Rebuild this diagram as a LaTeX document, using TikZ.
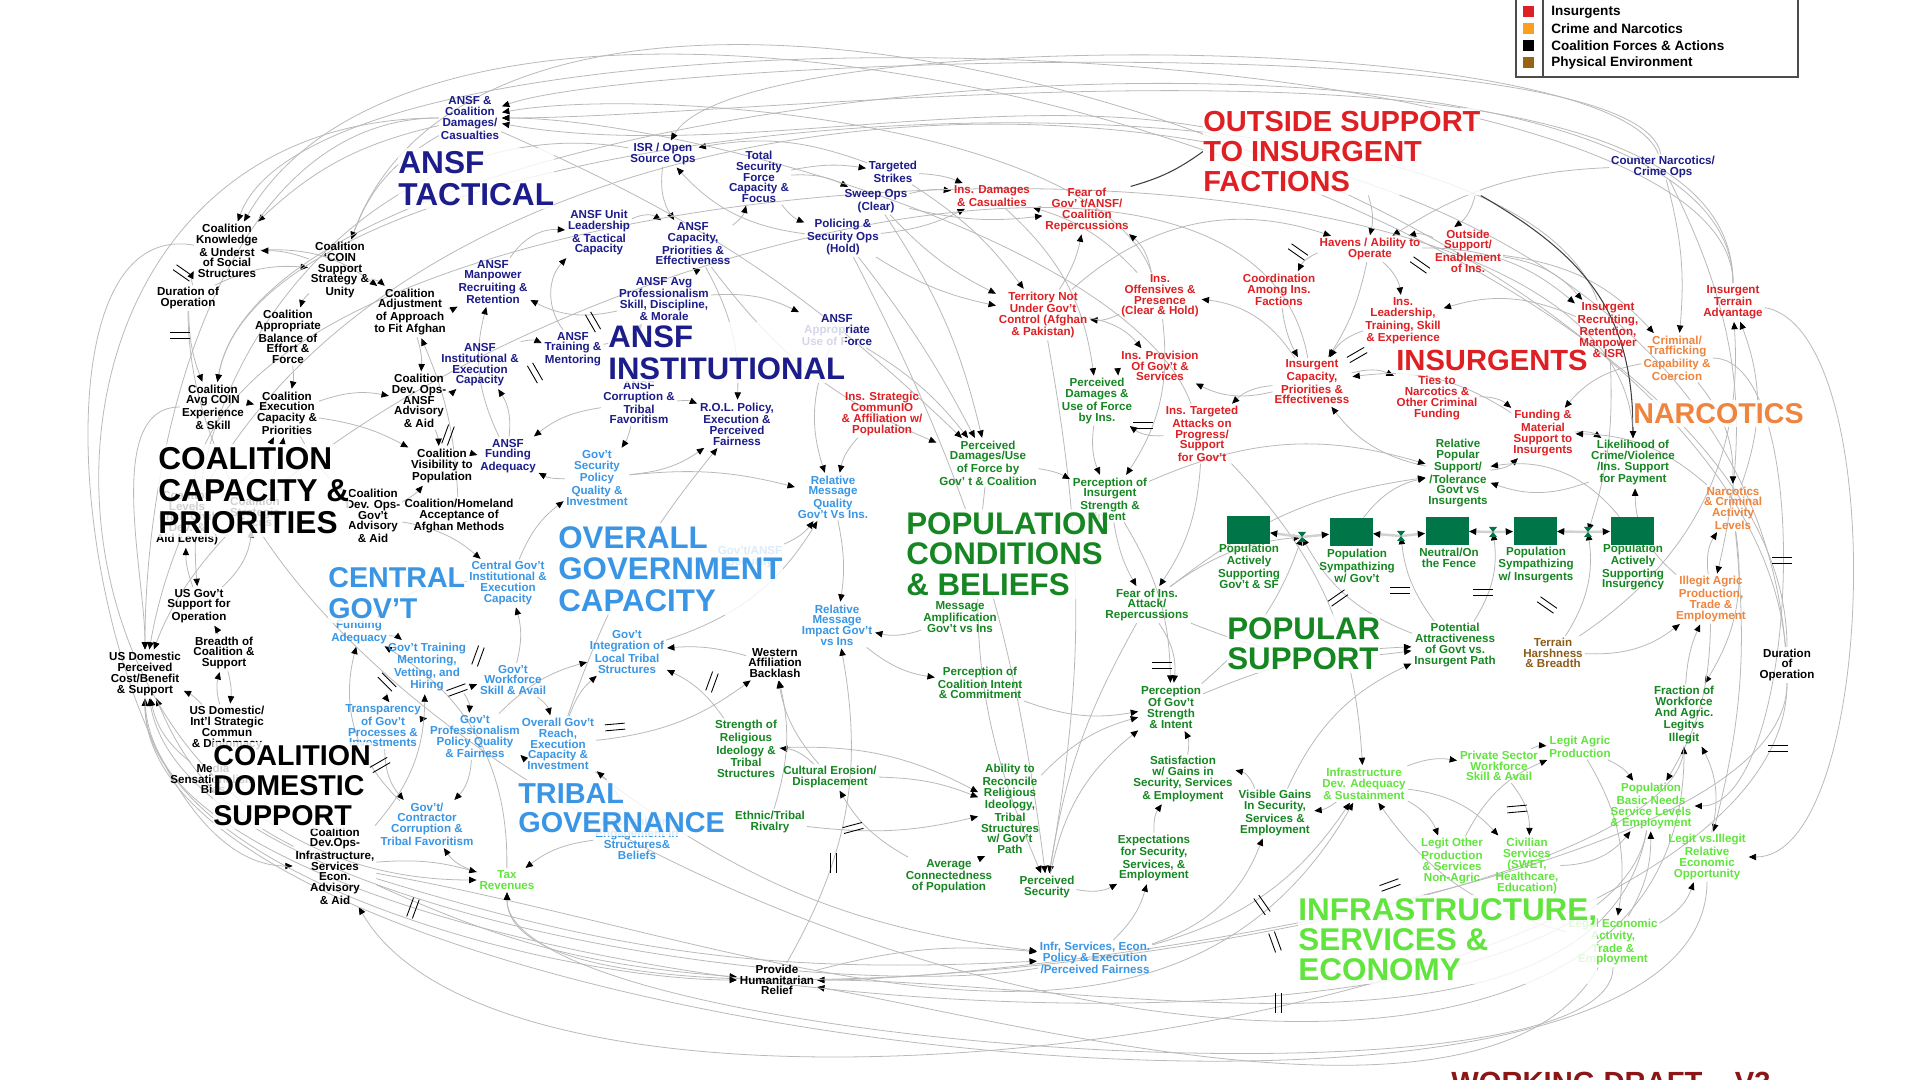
\documentclass[tikz,border=0pt]{standalone}
\usepackage{fontspec}
\setmainfont{Liberation Sans}
\usepackage{xcolor}
\usepackage{tikz}
\usetikzlibrary{arrows.meta, positioning, backgrounds}

\definecolor{ansfblue}{RGB}{28,28,138}
\definecolor{govblue}{RGB}{58,150,228}
\definecolor{insred}{RGB}{222,32,36}
\definecolor{narcorange}{RGB}{238,132,62}
\definecolor{popgreen}{RGB}{22,134,34}
\definecolor{infgreen}{RGB}{98,228,62}
\definecolor{envbrown}{RGB}{140,92,24}
\definecolor{stockgreen}{RGB}{0,118,72}
\definecolor{linkgray}{RGB}{185,185,185}
\definecolor{draftred}{RGB}{140,22,22}
\definecolor{keyorange}{RGB}{250,160,30}
\definecolor{keybrown}{RGB}{150,100,20}

\tikzset{
  var/.style={align=center, inner sep=1pt, font=\bfseries\fontsize{6.6}{6.1}\selectfont},
  ansf/.style={var, text=ansfblue},
  gov/.style={var, text=govblue},
  ins/.style={var, text=insred},
  narc/.style={var, text=narcorange},
  coal/.style={var, text=black},
  pop/.style={var, text=popgreen},
  infr/.style={var, text=infgreen},
  env/.style={var, text=envbrown},
  grp/.style 2 args={anchor=north west, align=left, inner xsep=0pt, inner ysep=2pt,
    fill=white, fill opacity=0.82, text opacity=1, font=\bfseries\fontsize{#1}{#2}\selectfont},
  link/.style={draw=linkgray, line width=0.45pt, -{Triangle[color=black, length=4.2pt, width=3.6pt]}, shorten >=0.5pt},
  dark/.style={draw=black!75, line width=0.6pt},
  pipe/.style={draw=black!18, line width=1.4pt, -{Triangle[color=black, length=4.2pt, width=3.6pt]}},
  stock/.style={fill=stockgreen, minimum width=8.6mm, minimum height=5.6mm, inner sep=0pt},
  keybox/.style={minimum size=2.2mm, inner sep=0pt},
  keytext/.style={anchor=west, inner sep=0pt, font=\bfseries\fontsize{7.7}{8}\selectfont},
  dmark/.pic={\draw[black, line width=0.5pt] (-10,-3) -- (10,-3) (-10,3) -- (10,3);},
  valve/.pic={\fill[stockgreen] (-4,-5) -- (4,-5) -- (-4,5) -- (4,5) -- cycle;},
}

\begin{document}
\begin{tikzpicture}[>=Triangle, x=0.2mm, y=-0.2mm]
    \useasboundingbox (0,0) rectangle (1920,1080);

    % 1. ANSF
    \node[ansf] (ansfDam) at (470,118) {ANSF \&\\Coalition\\Damages/\\Casualties};
    \node[ansf] (isr) at (663,154) {ISR / Open\\Source Ops};
    \node[ansf] (tsfc) at (759,177) {Total\\Security\\Force\\Capacity \&\\Focus};
    \node[ansf] (strike) at (893,172) {Targeted\\Strikes};
    \node[ansf] (sweep) at (876,201) {Sweep Ops\\(Clear)};
    \node[ansf] (police) at (843,237) {Policing \&\\Security Ops\\(Hold)};
    \node[ansf] (ansfLead) at (599,233) {ANSF Unit\\Leadership\\\& Tactical\\Capacity};
    \node[ansf] (ansfCap) at (693,244) {ANSF\\Capacity,\\Priorities \&\\Effectiveness};
    \node[ansf] (ansfMan) at (493,282) {ANSF\\Manpower\\Recruiting \&\\Retention};
    \node[ansf] (ansfProf) at (664,299) {ANSF Avg\\Professionalism\\Skill, Discipline,\\\& Morale};
    \node[ansf] (ansfTrain) at (573,349) {ANSF\\Training \&\\Mentoring};
    \node[ansf] (ansfInst) at (480,365) {ANSF\\Institutional \&\\Execution\\Capacity};
    \node[ansf] (ansfUse) at (837,330) {ANSF\\Appropriate\\Use of Force};
    \node[ansf] (ansfFund) at (508,456) {ANSF\\Funding\\Adequacy};
    \node[ansf] (ansfCorr) at (639,403) {ANSF\\Corruption \&\\Tribal\\Favoritism};
    \node[ansf] (rol) at (737,424) {R.O.L. Policy,\\Execution \&\\Perceived\\Fairness};
    \node[ansf] (cnOps) at (1663,167) {Counter Narcotics/\\Crime Ops};

    % 2. Coalition
    \node[coal] (coalKnow) at (227,251) {Coalition\\Knowledge\\\& Underst\\of Social\\Structures};
    \node[coal] (coalCoin) at (340,270) {Coalition\\‘COIN\\Support\\Strategy \&\\Unity};
    \node[coal] (durL) at (188,298) {Duration of\\Operation};
    \node[coal] (coalBal) at (288,337) {Coalition\\Appropriate\\Balance of\\Effort \&\\Force};
    \node[coal] (coalAdj) at (410,312) {Coalition\\Adjustment\\of Approach\\to Fit Afghan};
    \node[coal] (coalAvg) at (213,407) {Coalition\\Avg COIN\\Experience\\\& Skill};
    \node[coal] (coalExec) at (287,413) {Coalition\\Execution\\Capacity \&\\Priorities};
    \node[coal] (coalDevA) at (419,401) {Coalition\\Dev. Ops-\\ANSF\\Advisory\\\& Aid};
    \node[coal] (coalVis) at (442,466) {Coalition\\Visibility to\\Population};
    \node[coal] (coalDevG) at (373,516) {Coalition\\Dev. Ops-\\Gov't\\Advisory\\\& Aid};
    \node[coal] (coalHome) at (459,516) {Coalition/Homeland\\Acceptance of\\Afghan Methods};
    \node[coal] (coalTroop) at (187,518) {Coalition\\Levels\\(Incl. Civil\\Dev. \&\\Aid Levels)};
    \node[coal] (coalStrat) at (255,512) {Coalition\\Strategic\\Focus};
    \node[coal] (usSupp) at (199,606) {US Gov't\\Support for\\Operation};
    \node[coal] (breadth) at (224,653) {Breadth of\\Coalition \&\\Support};
    \node[coal] (usDom) at (145,674) {US Domestic\\Perceived\\Cost/Benefit\\\& Support};
    \node[coal] (usComm) at (227,728) {US Domestic/\\Int'l Strategic\\Commun\\\& Diplomacy};
    \node[coal] (media) at (213,779) {Media\\Sensationalism\\Bias};
    \node[coal] (coalDevI) at (335,866) {Coalition\\Dev.Ops-\\Infrastructure,\\Services\\Econ.\\Advisory\\\& Aid};
    \node[coal] (western) at (775,663) {Western\\Affiliation\\Backlash};
    \node[coal] (relief) at (777,980) {Provide\\Humanitarian\\Relief};
    \node[coal] (durR) at (1787,665) {Duration\\of\\Operation};

    % 3. Government
    \node[gov] (cgFund) at (359,632) {Funding\\Adequacy};
    \node[gov] (cgInst) at (508,583) {Central Gov't\\Institutional \&\\Execution\\Capacity};
    \node[gov] (govTrain) at (427,667) {Gov't Training\\Mentoring,\\Vetting, and\\Hiring};
    \node[gov] (transp) at (383,726) {Transparency\\of Gov't\\Processes \&\\Investments};
    \node[gov] (govWork) at (513,680) {Gov't\\Workforce\\Skill \& Avail};
    \node[gov] (govProf) at (475,737) {Gov't\\Professionalism\\Policy Quality\\\& Fairness};
    \node[gov] (govReach) at (558,744) {Overall Gov't\\Reach,\\Execution\\Capacity \&\\Investment};
    \node[gov] (govCorr) at (427,824) {Gov't/\\Contractor\\Corruption \&\\Tribal Favoritism};
    \node[gov] (govSec) at (597,478) {Gov't\\Security\\Policy\\Quality \&\\Investment};
    \node[gov] (govInt) at (627,652) {Gov't\\Integration of\\Local Tribal\\Structures};
    \node[gov] (tribalSB) at (637,838) {Recognition/\\Engagement in\\Structures\&\\Beliefs};
    \node[gov] (relMsgQ) at (833,497) {Relative\\Message\\Quality\\Gov't Vs Ins.};
    \node[gov] (relMsgI) at (837,625) {Relative\\Message\\Impact Gov't\\vs Ins};
    \node[gov] (infrPol) at (1095,958) {Infr, Services, Econ.\\Policy \& Execution\\/Perceived Fairness};
    \node[gov] (ghost) at (750,557) {Gov't/ANSF\\Security};

    % 4. Insurgents, narcotics, environment
    \node[ins] (insDam) at (992,196) {Ins. Damages\\\& Casualties};
    \node[ins] (fear) at (1087,210) {Fear of\\Gov' t/ANSF/\\Coalition\\Repercussions};
    \node[ins] (territory) at (1043,315) {Territory Not\\Under Gov't\\Control (Afghan\\\& Pakistan)};
    \node[ins] (insOff) at (1160,296) {Ins.\\Offensives \&\\Presence\\(Clear \& Hold)};
    \node[ins] (insProv) at (1160,366) {Ins. Provision\\Of Gov't \&\\Services};
    \node[ins] (insComm) at (882,414) {Ins. Strategic\\CommunIO\\\& Affiliation w/\\Population};
    \node[ins] (insTarget) at (1202,434) {Ins. Targeted\\Attacks on\\Progress/\\Support\\for Gov't};
    \node[ins] (havens) at (1370,249) {Havens / Ability to\\Operate};
    \node[ins] (coord) at (1279,290) {Coordination\\Among Ins.\\Factions};
    \node[ins] (insLead) at (1403,321) {Ins.\\Leadership,\\Training, Skill\\\& Experience};
    \node[ins] (outsideS) at (1468,251) {Outside\\Support/\\Enablement\\of Ins.};
    \node[ins] (insRec) at (1608,330) {Insurgent\\Recruiting,\\Retention,\\Manpower\\\& ISR};
    \node[ins] (insTerr) at (1733,302) {Insurgent\\Terrain\\Advantage};
    \node[ins] (insCap) at (1312,382) {Insurgent\\Capacity,\\Priorities \&\\Effectiveness};
    \node[ins] (ties) at (1437,398) {Ties to\\Narcotics \&\\Other Criminal\\Funding};
    \node[ins] (fundMat) at (1543,433) {Funding \&\\Material\\Support to\\Insurgents};
    \node[narc] (criminal) at (1677,358) {Criminal/\\Trafficking\\Capability \&\\Coercion};
    \node[narc] (narcLev) at (1733,508) {Narcotics\\\& Criminal\\Activity\\Levels};
    \node[narc] (illegit) at (1711,599) {Illegit Agric\\Production,\\Trade \&\\Employment};
    \node[env] (terrain) at (1553,653) {Terrain\\Harshness\\\& Breadth};

    % 5. Population
    \node[pop] (likely) at (1633,463) {Likelihood of\\Crime/Violence\\/Ins. Support\\for Payment};
    \node[pop] (relPop) at (1458,473) {Relative\\Popular\\Support/\\/Tolerance\\Govt vs\\Insurgents};
    \node[pop] (percDamIns) at (1097,401) {Perceived\\Damages \&\\Use of Force\\by Ins.};
    \node[pop] (percDamGov) at (988,463) {Perceived\\Damages/Use\\of Force by\\Gov' t \& Coalition};
    \node[pop] (percIns) at (1110,499) {Perception of\\Insurgent\\Strength \&\\Intent};
    \node[pop] (fearIns) at (1147,605) {Fear of Ins.\\Attack/\\Repercussions};
    \node[pop] (percGov) at (1171,707) {Perception\\Of Gov't\\Strength\\\& Intent};
    \node[pop] (msgAmp) at (960,617) {Message\\Amplification\\Gov't vs Ins};
    \node[pop] (percCoal) at (980,683) {Perception of\\Coalition Intent\\\& Commitment};
    \node[pop] (potential) at (1455,645) {Potential\\Attractiveness\\of Govt vs.\\Insurgent Path};
    \node[pop] (strength) at (746,749) {Strength of\\Religious\\Ideology \&\\Tribal\\Structures};
    \node[pop] (cultural) at (830,777) {Cultural Erosion/\\Displacement};
    \node[pop] (ethnic) at (770,822) {Ethnic/Tribal\\Rivalry};
    \node[pop] (avgConn) at (949,876) {Average\\Connectedness\\of Population};
    \node[pop] (ability) at (1010,809) {Ability to\\Reconcile\\Religious\\Ideology,\\Tribal\\Structures\\w/ Gov't\\Path};
    \node[pop] (percSec) at (1047,887) {Perceived\\Security};
    \node[pop] (satisf) at (1183,779) {Satisfaction\\w/ Gains in\\Security, Services\\\& Employment};
    \node[pop] (expect) at (1154,858) {Expectations\\for Security,\\Services, \&\\Employment};
    \node[pop] (visible) at (1275,813) {Visible Gains\\In Security,\\Services \&\\Employment};
    \node[pop] (fraction) at (1684,715) {Fraction of\\Workforce\\And Agric.\\Legitvs\\Illegit};

    % stocks and valves
    \node[stock] (sGov) at (1248,530) {};
    \node[stock] (sSym) at (1351,532) {};
    \node[stock] (sNeu) at (1447,531) {};
    \node[stock] (sSymI) at (1535,531) {};
    \node[stock] (sIns) at (1632,531) {};
    \coordinate (v1) at (1302,537);
    \coordinate (v2) at (1401,536);
    \coordinate (v3) at (1493,532);
    \coordinate (v4) at (1588,532);
    \node[pop] (lGov) at (1249,566) {Population\\Actively\\Supporting\\Gov't \& SF};
    \node[pop] (lSym) at (1357,566) {Population\\Sympathizing\\w/ Gov't};
    \node[pop] (lNeu) at (1449,558) {Neutral/On\\the Fence};
    \node[pop] (lSymI) at (1536,565) {Population\\Sympathizing\\w/ Insurgents};
    \node[pop] (lIns) at (1633,567) {Population\\Actively\\Supporting\\Insurgency};

    % 6. Infrastructure
    \node[infr] (infra) at (1364,784) {Infrastructure\\Dev. Adequacy\\\& Sustainment};
    \node[infr] (legitOther) at (1452,861) {Legit Other\\Production\\\& Services\\Non-Agric};
    \node[infr] (civil) at (1527,866) {Civilian\\Services\\(SWET,\\Healthcare,\\Education)};
    \node[infr] (private) at (1499,766) {Private Sector\\Workforce\\Skill \& Avail};
    \node[infr] (legitAg) at (1580,747) {Legit Agric\\Production};
    \node[infr] (basic) at (1651,806) {Population\\Basic Needs\\Service Levels\\\& Employment};
    \node[infr] (legitVs) at (1707,857) {Legit vs.Illegit\\Relative\\Economic\\Opportunity};
    \node[infr] (legalEcon) at (1613,942) {Legal Economic\\Activity,\\Trade \&\\Employment};
    \node[infr] (taxRev) at (507,880) {Tax\\Revenues};

    % 7. Group titles
    \node[grp={18}{18.2}, text=ansfblue] (tAnsfTac) at (398,147.5) {ANSF\\TACTICAL};
    \node[grp={17.7}{18}, text=ansfblue] (tAnsfInst) at (608,322) {ANSF\\INSTITUTIONAL};
    \node[grp={16.5}{17}, text=insred] (tOutside) at (1203,107.5) {OUTSIDE SUPPORT\\TO INSURGENT\\FACTIONS};
    \node[grp={16.6}{17}, text=insred] (tIns) at (1396,346.5) {INSURGENTS};
    \node[grp={16.3}{17}, text=narcorange] (tNarc) at (1633,399.5) {NARCOTICS};
    \node[grp={18}{18.2}] (tCoalCap) at (158,443.5) {COALITION\\CAPACITY \&\\PRIORITIES};
    \node[grp={16.3}{18}, text=govblue] (tCentral) at (328,563.5) {CENTRAL\\GOV’T};
    \node[grp={17.8}{18}, text=govblue] (tOverall) at (558,522.5) {OVERALL\\GOVERNMENT\\CAPACITY};
    \node[grp={17.8}{17.4}, text=popgreen] (tPopCond) at (906,508.5) {POPULATION\\CONDITIONS\\\& BELIEFS};
    \node[grp={17.8}{17}, text=popgreen] (tPopSup) at (1227,613.5) {POPULAR\\SUPPORT};
    \node[grp={16.4}{16.7}, text=govblue] (tTribal) at (518,779.5) {TRIBAL\\GOVERNANCE};
    \node[grp={16.3}{17}] (tCoalDom) at (213,741.5) {COALITION\\DOMESTIC\\SUPPORT};
    \node[grp={17.9}{17}, text=infgreen] (tInfra) at (1298,894.5) {INFRASTRUCTURE,\\SERVICES \&\\ECONOMY};
    \node[anchor=base west, inner sep=0pt, font=\bfseries\fontsize{16.6}{17}\selectfont, text=draftred] (draft) at (1451,1092) {WORKING DRAFT – V3};

    % 8. Legend
    \draw[black!70, line width=0.7pt] (1516,-20) rectangle (1798,77);
    \draw[black!70, line width=0.7pt] (1543,-20) -- (1543,77);
    \node[keybox, fill=insred] (kIns) at (1528,12) {};
    \node[keybox, fill=keyorange] (kNarc) at (1528,29) {};
    \node[keybox, fill=black] (kCoal) at (1528,46) {};
    \node[keybox, fill=keybrown] (kEnv) at (1528,63) {};
    \node[keytext] (kInsT) at (1551,12) {Insurgents};
    \node[keytext] (kNarcT) at (1551,29) {Crime and Narcotics};
    \node[keytext] (kCoalT) at (1551,46) {Coalition Forces \& Actions};
    \node[keytext] (kEnvT) at (1551,63) {Physical Environment};

    % 9. Links
    \begin{pgfonlayer}{background}
    \fill[white] (0,0) rectangle (1920,1080);
    % ANSF links
    \path (tsfc) edge[link, bend left=10] (strike) edge[link, bend left=15] (sweep) edge[link, bend right=15] (police);
    \path (ansfCap) edge[link, bend right=20] (tsfc) edge[link, bend left=15] (rol) edge[link, bend right=15] (percDamGov);
    \path (ansfLead) edge[link, bend left=30] (ansfCap);
    \path (ansfProf) edge[link, bend right=25] (ansfCap) edge[link, bend left=20] (ansfMan) edge[link, bend left=15] (ansfUse);
    \path (ansfTrain) edge[link, bend left=40] (ansfLead) edge[link, bend right=20] (ansfProf);
    \path (ansfInst) edge[link, bend left=20] (ansfTrain);
    \path (ansfMan) edge[link, bend left=30] (ansfLead);
    \path (strike) edge[link, bend right=15] (isr) edge[link, bend left=10] (insDam) edge[link, bend left=10] (territory);
    \path (sweep) edge[link, bend left=10] (insDam) edge[link, bend right=10] (territory) edge[link, bend left=10] (percDamGov) edge[link, bend right=10] (fear);
    \path (police) edge[link, bend left=20] (isr) edge[link, bend right=10] (insDam) edge[link, bend left=10] (percSec) edge[link, bend right=10] (territory) edge[link, bend left=5] (percDamGov);
    \path (isr) edge[link, bend right=20] (ansfCap);
    \path (ansfDam) edge[link, bend right=20] (coalCoin) edge[link, bend right=15] (coalKnow) edge[link, bend left=10] (percDamGov);
    \path (ansfUse) edge[link, bend left=10] (percDamGov) edge[link, bend right=20] (relMsgQ);
    \path (ansfFund) edge[link, bend right=20] (ansfInst) edge[link, bend left=20] (ansfMan);
    \path (ansfCorr) edge[link, bend left=15] (rol) edge[link, bend right=15] (ansfFund) edge[link, bend left=10] (govSec);
    % insurgent links
    \path (insOff) edge[link, out=110, in=10, looseness=0.6] (ansfDam) edge[link, bend left=15] (territory) edge[link, bend right=20] (fear) edge[link, bend left=20] (percIns) edge[link, bend right=15] (insDam);
    \path (insTarget) edge[link, out=110, in=0, looseness=0.6] (ansfDam) edge[link, bend left=20] (percDamIns) edge[link, bend left=15] (fearIns) edge[link, bend left=20] (infra);
    \path (territory) edge[link, bend left=30] (havens) edge[link, bend left=20] (insProv) edge[link, bend right=10] (fear) edge[link, bend left=10] (percSec);
    \path (insCap) edge[link, bend right=20] (insTarget) edge[link, bend left=20] (insProv) edge[link, bend right=25] (insOff) edge[link, bend left=20] (ties);
    \path (coord) edge[link, bend right=10] (insCap);
    \path (havens) edge[link, bend right=20] (coord) edge[link, bend left=20] (insLead) edge[link, bend left=10] (insCap) edge[link, bend left=20] (insRec);
    \path (insLead) edge[link, bend right=20] (insCap);
    \path (insRec) edge[link, bend right=20] (insLead) edge[link, bend left=10] (v4);
    \path (outsideS) edge[link, bend right=20] (havens) edge[link, bend left=20] (insRec) edge[link, bend left=20] (criminal);
    \path (tOutside) edge[link, bend left=15] (havens) edge[link, bend left=20] (outsideS) edge[link, out=170, in=350, looseness=0.8] (ansfDam);
    \path (cnOps) edge[link, bend right=15] (havens) edge[link, bend left=10] (criminal) edge[link, bend left=20] (illegit) edge[link, out=110, in=60, looseness=0.35] (isr) edge[link, out=100, in=20, looseness=0.3] (ansfDam);
    \path (ties) edge[link, bend left=20] (fundMat);
    \path (fundMat) edge[link, bend right=20] (insCap) edge[link, bend left=20] (likely);
    \path (criminal) edge[link, bend right=20] (fundMat) edge[link, bend left=20] (narcLev) edge[link, out=0, in=0, looseness=0.6] (basic);
    \path (relPop) edge[link, bend left=20] (insCap) edge[link, bend right=20] (fundMat);
    \path (likely) edge[link, bend left=20] (relPop);
    \path (sIns) edge[link, bend right=30] (relPop);
    \path (sSym) edge[link, bend left=20] (relPop);
    \path (narcLev) edge[link, bend right=20] (insTerr) edge[link, bend right=20] (fundMat) edge[link, bend left=20] (fraction) edge[link, bend left=10] (legitVs);
    \path (terrain) edge[link, bend right=30] (insTerr) edge[link, bend right=20] (illegit) edge[link, bend right=20] (v4);
    \path (illegit) edge[link, bend left=20] (narcLev) edge[link, bend left=25] (likely) edge[link, bend left=15] (basic);
    \path (fraction) edge[link, bend left=10] (illegit);
    \path (legitVs) edge[link, bend right=20] (fraction);
    % population links
    \path (insDam) edge[link, bend left=20] (percDamIns);
    \path (insProv) edge[link, bend right=20] (percDamIns);
    \path (percDamIns) edge[link, bend right=15] (percIns);
    \path (percDamGov) edge[link, bend left=10] (percIns) edge[link, bend right=15] (percSec);
    \path (percIns) edge[link, bend left=20] (relPop) edge[link, bend right=10] (fearIns) edge[link, bend left=15] (percGov);
    \path (fearIns) edge[link, bend left=15] (relPop) edge[link, bend left=20] (percGov) edge[link, bend right=15] (potential) edge[link, bend right=10] (percSec) edge[link, bend left=15] (v1);
    \path (percGov) edge[link, bend left=10] (potential) edge[link, bend right=15] (v1);
    \path (percCoal) edge[link, bend right=15] (percGov);
    \path (percSec) edge[link, bend left=20] (percGov) edge[link, bend right=20] (expect);
    \path (ability) edge[link, bend left=15] (percGov);
    \path (satisf) edge[link, bend right=20] (percGov);
    \path (expect) edge[link, bend left=20] (satisf);
    \path (visible) edge[link, bend right=30] (satisf) edge[link, bend left=20] (potential);
    \path (potential) edge[link, bend left=20] (v1) edge[link, bend left=15] (v2) edge[link, bend right=20] (v3);
    \path (infra) edge[link, bend left=15] (visible) edge[link, bend left=20] (legitOther) edge[link, bend left=15] (private) edge[link, bend left=20] (civil);
    \path (infrPol) edge[link, bend right=15] (expect) edge[link, bend right=25] (visible) edge[link, bend right=20] (infra);
    \path (legalEcon) edge[link, bend left=20] (infra) edge[link, bend right=15] (basic) edge[link, bend right=20] (legitVs) edge[link, out=270, in=270, looseness=0.36] (taxRev) edge[link, out=240, in=350, looseness=0.7] (relief);
    \path (private) edge[link, bend left=15] (legitAg) edge[link, bend left=20] (civil);
    \path (legitOther) edge[link, bend left=20] (legitAg);
    \path (civil) edge[link, bend right=25] (basic);
    \path (legitAg) edge[link, bend left=15] (basic) edge[link, bend left=20] (legalEcon);
    \path (strength) edge[link, bend left=15] (ability) edge[link, bend right=15] (govInt);
    \path (cultural) edge[link, bend left=10] (ability) edge[link, bend right=20] (strength) edge[link, bend left=15] (western);
    \path (ethnic) edge[link, bend right=10] (ability) edge[link, bend right=15] (western);
    \path (avgConn) edge[link, bend right=15] (ability) edge[link, bend left=15] (cultural);
    \path (relief) edge[link, bend left=10] (infrPol) edge[link, bend right=20] (relMsgI);
    % government links
    \path (govReach) edge[link, bend right=15] (infrPol) edge[link, bend left=15] (govInt) edge[link, bend right=15] (western) edge[link, bend left=10] (rol);
    \path (govProf) edge[link, bend right=20] (govReach) edge[link, bend left=15] (govInt) edge[link, bend left=20] (govCorr);
    \path (govWork) edge[link, bend left=20] (govReach) edge[link, bend right=15] (cgInst);
    \path (govTrain) edge[link, bend right=15] (govWork) edge[link, bend right=20] (transp) edge[link, bend left=20] (govProf);
    \path (cgFund) edge[link, bend left=20] (govTrain);
    \path (transp) edge[link, bend left=15] (govProf) edge[link, bend right=20] (govCorr);
    \path (govCorr) edge[link, bend left=30] (cgFund);
    \path (taxRev) edge[link, bend right=30] (cgFund) edge[link, bend left=20] (govCorr);
    \path (tribalSB) edge[link, bend right=15] (taxRev) edge[link, bend right=15] (govReach);
    \path (cgInst) edge[link, bend left=15] (govSec) edge[link, bend right=20] (cgFund);
    \path (govSec) edge[link, bend right=15] (rol) edge[link, bend left=15] (ansfFund) edge[link, bend left=10] (relMsgQ);
    \path (insComm) edge[link, bend right=15] (relMsgQ);
    \path (relMsgQ) edge[link, bend left=10] (relMsgI);
    \path (msgAmp) edge[link, bend left=15] (relMsgI);
    \path (relMsgI) edge[link, bend right=15] (percCoal);
    \path (western) edge[link, bend right=10] (govInt);
    \path (govInt) edge[link, bend right=20] (relMsgQ);
    \path (ghost) edge[link, bend right=15] (relMsgQ);
    % coalition links
    \path (coalKnow) edge[link, bend left=20] (coalAdj) edge[link, out=170, in=180, looseness=0.8] (coalDevI);
    \path (coalCoin) edge[link, bend right=10] (coalKnow) edge[link, bend right=15] (coalBal) edge[link, bend left=15] (coalAdj);
    \path (durL) edge[link, bend left=20] (coalKnow) edge[link, bend left=15] (coalCoin) edge[link, bend right=10] (coalAvg) edge[link, out=270, in=270, looseness=0.95] (fraction);
    \path (coalBal) edge[link, bend left=10] (coalExec);
    \path (coalAvg) edge[link, bend left=10] (coalExec) edge[link, out=180, in=90, looseness=0.8] (usDom);
    \path (coalTroop) edge[link, bend right=15] (coalExec);
    \path (coalStrat) edge[link, bend right=10] (coalExec);
    \path (coalExec) edge[link, bend left=15] (coalDevA) edge[link, bend left=10] (coalVis) edge[link, bend right=10] (coalDevG);
    \path (coalAdj) edge[link, bend left=10] (coalDevA) edge[link, bend right=15] (ansfMan);
    \path (coalHome) edge[link, bend right=10] (coalAdj);
    \path (coalDevA) edge[link, bend left=10] (coalVis) edge[link, bend right=15] (ansfInst);
    \path (coalDevG) edge[link, bend right=10] (coalVis) edge[link, bend left=15] (cgInst);
    \path (coalVis) edge[link, bend left=10] (ansfFund);
    \path (usSupp) edge[link, bend left=10] (coalTroop) edge[link, bend right=20] (coalStrat);
    \path (breadth) edge[link, bend right=10] (usSupp) edge[link, bend left=10] (usComm);
    \path (usComm) edge[link, bend right=10] (usDom) edge[link, bend left=15] (breadth);
    \path (media) edge[link, bend left=20] (usDom);
    \path (coalDevI) edge[link, bend left=20] (usDom) edge[link, bend right=20] (govTrain) edge[link, bend right=10] (infrPol) edge[link, bend left=10] (taxRev) edge[link, bend right=10] (relief) edge[link, out=350, in=240] (infra);
    % long outer arcs
    \path (durR) edge[link, out=90, in=60, looseness=0.72] (coalKnow) edge[link, out=95, in=70, looseness=0.8] (coalCoin) edge[link, out=95, in=80, looseness=1.1] (usDom) edge[link, out=270, in=300, looseness=0.6] (coalDevI) edge[link, out=270, in=0, looseness=0.5] (relief);
    \path (insTerr) edge[link, out=90, in=70, looseness=0.45] (coalKnow) edge[link, out=90, in=0, looseness=0.6] (ansfDam) edge[link, out=350, in=0, looseness=0.6] (legitVs) edge[link, out=90, in=80, looseness=0.55] (coalAvg);
    \path (insRec) edge[link, out=110, in=80, looseness=0.55] (coalAvg);
    \path (insCap) edge[link, out=100, in=70, looseness=0.75] (usDom);
    \path (likely) edge[link, out=90, in=80, looseness=0.65] (coalTroop);
    \path (legitVs) edge[link, out=270, in=270, looseness=0.55] (usDom);
    \path (basic) edge[link, out=260, in=0, looseness=0.8] (relief) edge[link, out=260, in=270, looseness=0.52] (usDom);
    \path (fraction) edge[link, out=270, in=270, looseness=0.4] (taxRev);
    \path (ansfDam) edge[link, out=180, in=90, looseness=0.9] (usDom) edge[link, out=180, in=180, looseness=1.6] (taxRev);
    \path (isr) edge[link, out=170, in=95, looseness=1.0] (usSupp);
    \path (usDom) edge[link, out=270, in=180, looseness=0.7] (relief);
    \path (infrPol) edge[link, out=190, in=280, looseness=0.6] (usDom);
    \path (v1) edge[pipe] (sGov) edge[pipe] (sSym);
    \path (v2) edge[pipe] (sSym) edge[pipe] (sNeu);
    \path (v3) edge[pipe] (sNeu) edge[pipe] (sSymI);
    \path (v4) edge[pipe] (sSymI) edge[pipe] (sIns);
    \draw[dark] (tOutside.west) to[bend left=10] (fear.north east);
    \draw[dark, -{Triangle[color=black, length=4.2pt, width=3.6pt]}] (tOutside.south east) to[out=330, in=90, looseness=1.1] (likely);
    \end{pgfonlayer}

    % 10. Valves and delay marks
    \foreach \v in {v1,v2,v3,v4} \pic at (\v) {valve};
    \foreach \px/\py/\r in {183/273/-35, 180/335/0, 593/322/-60, 1298/252/-35, 1420/265/-35, 1357/355/30,
        448/435/70, 387/682/-45, 457/690/20, 535/373/-60, 712/682/70, 1143/425/0, 1338/598/35,
        1400/590/0, 1162/665/0, 1483/592/0, 1547/605/-35, 1782/560/0, 380/765/30, 413/908/70,
        615/727/5, 853/828/15, 833/863/90, 1262/905/-55, 1275/942/-70, 1278/1003/90, 1390/885/20,
        1517/809/5, 1778/748/0, 478/656/70}
        \pic[rotate=\r] at (\px,\py) {dmark};

\end{tikzpicture}
\end{document}
